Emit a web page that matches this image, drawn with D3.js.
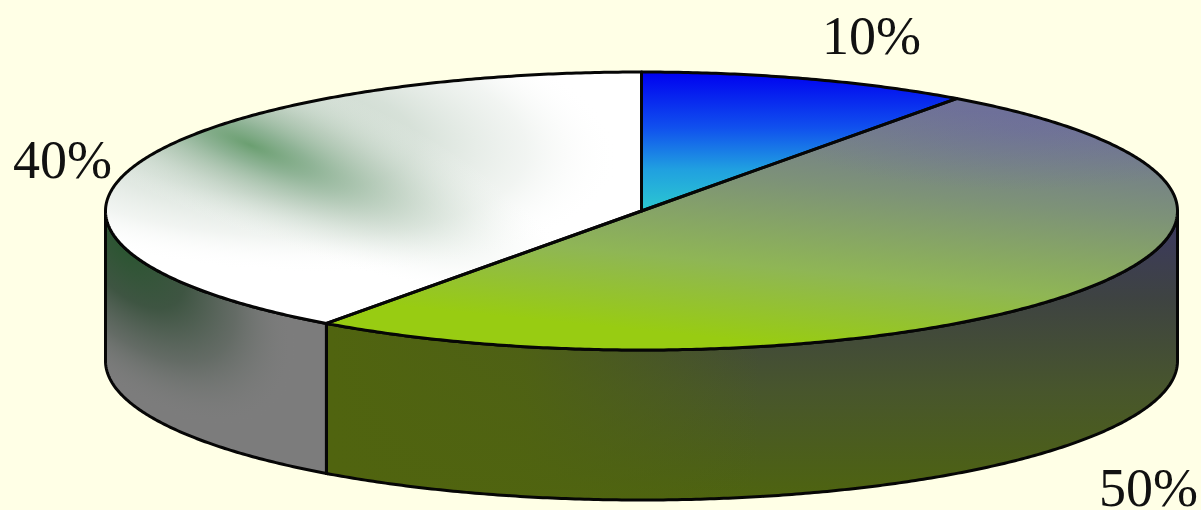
<!DOCTYPE html>
<html><head><meta charset="utf-8">
<script src="https://cdn.jsdelivr.net/npm/d3@7/dist/d3.min.js"></script>
<style>html,body{margin:0;padding:0;background:#ffffe6;overflow:hidden}svg{display:block}text{font-family:"Liberation Serif",serif;fill:#111}</style>
</head><body><svg id="c" width="1201" height="510"></svg>
<script>
const categories = ["A", "B", "C"];
const values = [10, 50, 40];
const tickLabels = ["10%", "50%", "40%"];

const svg = d3.select("#c");
const cx = 641.5, cy = 211, rx = 536, ry = 139, depth = 150;
const px = d3.scaleLinear().domain([-1, 1]).range([cx - rx, cx + rx]);
const py = d3.scaleLinear().domain([-1, 1]).range([cy - ry, cy + ry]);
const pie = d3.pie().sort(null).value(d => d);
const arcs = pie(values);
const line = d3.line();
const rim = (a0, a1, dy = 0) => {
  const n = Math.max(2, Math.ceil(Math.abs(a1 - a0) * 180 / Math.PI * 2));
  return d3.range(n + 1).map(i => {
    const a = a0 + (a1 - a0) * i / n;
    return [px(Math.sin(a)), py(-Math.cos(a)) + dy];
  });
};
const topPath = d => line([[px(0), py(0)], ...rim(d.startAngle, d.endAngle)]) + "Z";
const wallPath = (a0, a1) => line([...rim(a0, a1), ...rim(a1, a0, depth)]) + "Z";

const defs = svg.append("defs");
function linear(id, p, stops) {
  const g = defs.append("linearGradient").attr("id", id).attr("gradientUnits", "userSpaceOnUse")
    .attr("x1", p[0]).attr("y1", p[1]).attr("x2", p[2]).attr("y2", p[3]);
  stops.forEach(s => g.append("stop").attr("offset", s[0]).attr("stop-color", s[1]).attr("stop-opacity", s[2] ?? 1));
}
function radial(id, tx, ty, rot, a, b, stops) {
  const g = defs.append("radialGradient").attr("id", id).attr("gradientUnits", "userSpaceOnUse")
    .attr("cx", 0).attr("cy", 0).attr("r", 1)
    .attr("gradientTransform", `translate(${tx},${ty}) rotate(${rot}) scale(${a},${b})`);
  stops.forEach(s => g.append("stop").attr("offset", s[0]).attr("stop-color", s[1]).attr("stop-opacity", s[2] ?? 1));
}
linear("blue", [0, 72, 0, 211], [[0, "#0000f0"], [0.4, "#1050ee"], [0.7, "#20a0e0"], [1, "#2cc8d0"]]);
linear("green", [865, 100, 840, 350], [[0, "#6f7396"], [0.35, "#7d9278"], [0.7, "#8fb655"], [1, "#98cc12"]]);
radial("greenTint", 1020, 130, 0, 240, 60, [[0, "#6a62a8", 0.25], [1, "#6a62a8", 0]]);
radial("haze", 250, 130, 5, 370, 140, [[0, "#9db8a0", 0.65], [0.45, "#bccdbf", 0.6], [0.75, "#dde5de", 0.4], [1, "#ffffff", 0]]);
radial("ridge", 250, 145, 22, 340, 85, [[0, "#669c6c", 0.95], [0.2, "#80aa88", 0.8], [0.5, "#a8c1ac", 0.45], [1, "#ffffff", 0]]);
linear("wallGreen", [0, 230, 0, 500], [[0, "#3c3a5c"], [0.25, "#3e4342"], [0.6, "#48562c"], [1, "#4e640f"]]);
linear("wallLeft", [330, 0, 760, 0], [[0, "#50640f", 1], [0.45, "#50640f", 0.85], [1, "#50640f", 0]]);
radial("wallDark", 125, 245, 48, 220, 115, [[0, "#2a5530", 1], [0.35, "#3d5441", 0.98], [0.65, "#5c665e", 0.75], [1, "#7f7f7f", 0]]);

const mid = Math.PI / 2, back = 3 * Math.PI / 2;
const split = arcs[1].endAngle;
const black = "#060606";
// walls
const gWall = svg.append("g");
gWall.append("path").attr("d", wallPath(mid, split)).attr("fill", "url(#wallGreen)");
gWall.append("path").attr("d", wallPath(mid, split)).attr("fill", "url(#wallLeft)");
gWall.append("path").attr("d", wallPath(split, back)).attr("fill", "#7c7c7c");
gWall.append("path").attr("d", wallPath(split, back)).attr("fill", "url(#wallDark)");
gWall.append("path").attr("d", wallPath(mid, split)).attr("fill", "none").attr("stroke", black).attr("stroke-width", 3);
gWall.append("path").attr("d", wallPath(split, back)).attr("fill", "none").attr("stroke", black).attr("stroke-width", 3);
// top slices
const fills = [["url(#blue)"], ["url(#green)", "url(#greenTint)"], ["#ffffff", "url(#haze)", "url(#ridge)"]];
const gTop = svg.append("g");
arcs.forEach((d, i) => {
  fills[i].forEach(f => gTop.append("path").attr("class", "slice-" + categories[i]).attr("d", topPath(d)).attr("fill", f));
});
arcs.forEach(d => gTop.append("path").attr("d", topPath(d)).attr("fill", "none")
  .attr("stroke", black).attr("stroke-width", 3).attr("stroke-linejoin", "round"));
// labels
const labelPos = [[822, 54], [1099, 506], [13, 178]];
svg.append("g").selectAll("text").data(tickLabels).join("text")
  .attr("x", (d, i) => labelPos[i][0]).attr("y", (d, i) => labelPos[i][1])
  .attr("font-size", 54).text(d => d);
</script></body></html>
